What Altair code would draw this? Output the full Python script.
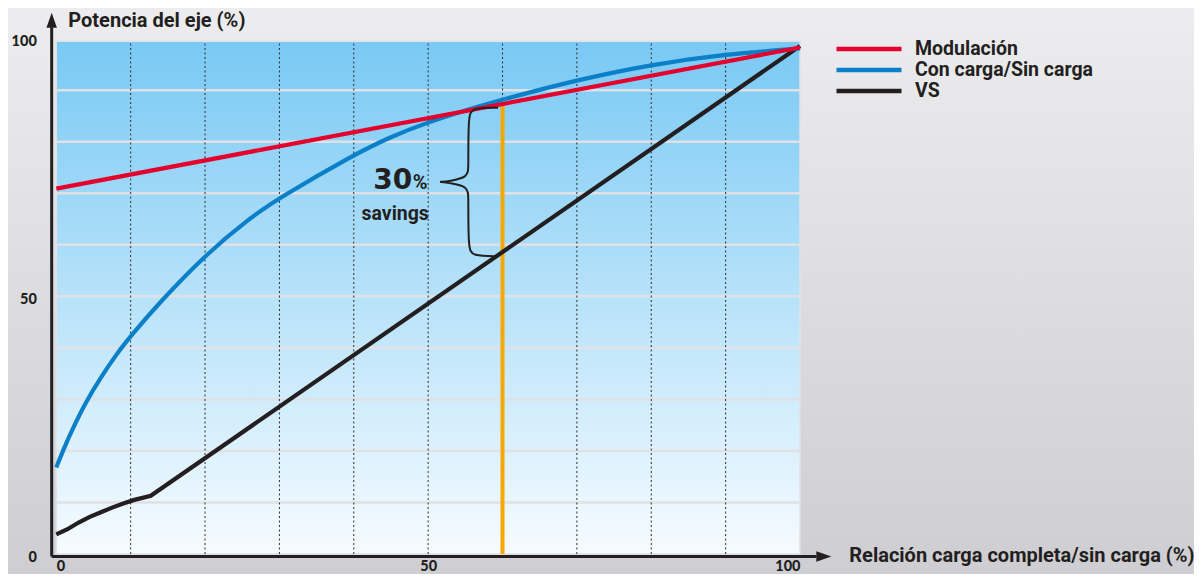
import altair as alt
import pandas as pd

# ---------------- data ----------------
series_names = ["Modulación", "Con carga/Sin carga", "VS"]
series_colors = ["#e3032c", "#0b7fc7", "#231f20"]

mod_x = [0, 100]
mod_y = [70.9, 98.3]

con_x = [0, 1, 2, 4, 6, 8, 10, 14, 20, 26, 30, 40, 45, 50, 55, 60, 70, 80, 90, 100]
con_y = [16.8, 20.4, 23.7, 29.6, 34.3, 38.6, 42.3, 49.0, 58.0, 65.2, 69.1, 77.5, 81.0,
         83.8, 86.1, 88.2, 92.0, 95.0, 97.0, 98.1]

vs_x = [0, 1.5, 3, 4.5, 6, 7.5, 9, 10.5, 12.7, 100]
vs_y = [3.8, 4.8, 6.1, 7.2, 8.1, 9.0, 9.8, 10.5, 11.3, 98.6]

grid_vals = [10, 20, 30, 40, 50, 60, 70, 80, 90]
tick_vals = [0, 50, 100]

savings_x = 60
savings_top = 87.3
savings_bottom = 58.6
savings_big = "30"
savings_pct = "%"
savings_word = "savings"

y_title = "Potencia del eje (%)"
x_title = "Relación carga completa/sin carga (%)"

# ---------------- tables ----------------
lines_df = pd.concat([
    pd.DataFrame({"series": series_names[0], "x": mod_x, "y": mod_y}),
    pd.DataFrame({"series": series_names[1], "x": con_x, "y": con_y}),
    pd.DataFrame({"series": series_names[2], "x": vs_x, "y": vs_y}),
], ignore_index=True)

grid_df = pd.DataFrame({"v": grid_vals})

# brace built from the savings range at x = savings_x
spine = savings_x - 4.6
tip = savings_x - 8.4
end = savings_x - 0.6
top = savings_top - 0.7
bot = savings_bottom - 0.8
mid = (top + bot) / 2
brace_pts = [
    (end, top), (spine + 0.5, top), (spine, top - 1.6), (spine, mid + 3.0),
    (spine, mid + 0.9), (tip + 1.2, mid + 0.15), (tip, mid), (tip, mid), (tip, mid),
    (tip + 1.2, mid - 0.15), (spine, mid - 0.9), (spine, mid - 3.0),
    (spine, bot + 1.6), (spine + 0.5, bot), (end, bot),
]
brace_df = pd.DataFrame({"o": list(range(len(brace_pts))),
                         "x": [p[0] for p in brace_pts],
                         "y": [p[1] for p in brace_pts]})

W, H = 743.7, 515.3
FONT = "Roboto"
INK = "#231f20"

xs = alt.Scale(domain=[0, 100], nice=False, zero=False)
ys = alt.Scale(domain=[0, 100], nice=False, zero=False)

one = pd.DataFrame({"a": [0]})

# outer grey gradient backdrop
backdrop = alt.Chart(one).mark_rect(
    color=alt.Gradient(gradient="linear",
                       stops=[alt.GradientStop(color="#ededef", offset=0),
                              alt.GradientStop(color="#cdcdd2", offset=1)],
                       x1=0, x2=0, y1=0, y2=1)
).encode(x=alt.value(-60), x2=alt.value(W + 400), y=alt.value(-40), y2=alt.value(H + 30))

# plot-area blue gradient
plot_bg = alt.Chart(pd.DataFrame({"x0": [0], "x1": [100], "y0": [0], "y1": [99.5]})).mark_rect(
    color=alt.Gradient(gradient="linear",
                       stops=[alt.GradientStop(color="#79c9f4", offset=0),
                              alt.GradientStop(color="#f6fbff", offset=1)],
                       x1=0, x2=0, y1=0, y2=1),
    stroke="#dfe2e7", strokeWidth=1.5
).encode(
    x=alt.X("x0:Q", scale=xs, axis=alt.Axis(
        values=tick_vals, domain=False, ticks=False, grid=False, format="d", zindex=2,
        labelFont="Lato", labelFontWeight=900, labelFontSize=14.5, labelColor=INK,
        labelPadding=5, labelBaseline="top",
        title=x_title, titleFont=FONT, titleFontWeight="bold", titleFontSize=20,
        titleColor=INK, titleAlign="left", titleBaseline="middle",
        titleX=792.5, titleY=1.5, titleAngle=0)),
    x2="x1:Q",
    y=alt.Y("y0:Q", scale=ys, axis=alt.Axis(
        values=tick_vals, domain=False, ticks=False, grid=False, format="d", zindex=2,
        labelFont="Lato", labelFontWeight=900, labelFontSize=14.5, labelColor=INK,
        labelPadding=20, labelOffset=3, labelBaseline="middle",
        title=y_title, titleFont=FONT, titleFontWeight="bold", titleFontSize=20,
        titleColor=INK, titleAlign="left", titleBaseline="middle",
        titleX=11.5, titleY=-18.5, titleAngle=0)),
    y2="y1:Q",
)

hgrid = alt.Chart(grid_df).mark_rule(color="#dfe1e6", strokeWidth=2.5).encode(
    y=alt.Y("v:Q", scale=ys), x=alt.datum(0), x2=alt.datum(100))

vgrid = alt.Chart(grid_df).mark_rule(color="#2b2b2b", strokeWidth=1, strokeDash=[2, 2.5]).encode(
    x=alt.X("v:Q", scale=xs), y=alt.datum(0), y2=alt.datum(99.5))

orange = alt.Chart(pd.DataFrame({"x": [savings_x], "y0": [0], "y1": [savings_top]})).mark_rule(
    color="#f5a800", strokeWidth=4).encode(
    x=alt.X("x:Q", scale=xs), y=alt.Y("y0:Q", scale=ys), y2="y1:Q")

color_scale = alt.Scale(domain=series_names, range=series_colors)
legend = alt.Legend(
    title=None, orient="none", legendX=777.7, legendY=0.5,
    symbolType="stroke", symbolSize=4225, symbolStrokeWidth=4.5,
    labelFont=FONT, labelFontWeight="bold", labelFontSize=19.5, labelColor=INK,
    labelOffset=11, labelLimit=400, clipHeight=19.8, rowPadding=0, padding=0,
    labelBaseline="middle", zindex=2,
)


def series_layer(name, interp):
    return alt.Chart(lines_df).transform_filter(alt.datum.series == name).mark_line(
        strokeWidth=4.2, interpolate=interp, strokeCap="butt").encode(
        x=alt.X("x:Q", scale=xs), y=alt.Y("y:Q", scale=ys),
        color=alt.Color("series:N", scale=color_scale, legend=legend, sort=series_names))


vs_line = series_layer(series_names[2], "linear")
con_line = series_layer(series_names[1], "basis")
mod_line = series_layer(series_names[0], "linear")

brace = alt.Chart(brace_df).mark_line(color=INK, strokeWidth=2, interpolate="basis").encode(
    x=alt.X("x:Q", scale=xs), y=alt.Y("y:Q", scale=ys), order="o:Q")

txt_df = pd.DataFrame({"x": [savings_x - 12.15], "xs": [savings_x - 9.9],
                       "y": [(savings_top + savings_bottom) / 2 - 2.1]})
t30 = alt.Chart(txt_df).mark_text(text=savings_big, font="DejaVu Sans", fontWeight="bold",
                                  fontSize=28, align="right", baseline="alphabetic",
                                  color=INK).encode(
    x=alt.X("x:Q", scale=xs), y=alt.Y("y:Q", scale=ys))
tpct = alt.Chart(txt_df).mark_text(text=savings_pct, font=FONT, fontWeight="bold",
                                   fontSize=20, align="left", baseline="alphabetic",
                                   color=INK, dx=0.5).encode(
    x=alt.X("x:Q", scale=xs), y=alt.Y("y:Q", scale=ys))
tsav = alt.Chart(txt_df).mark_text(text=savings_word, font=FONT, fontWeight="bold",
                                   fontSize=19.5, align="right", baseline="alphabetic",
                                   color=INK, dy=31).encode(
    x=alt.X("xs:Q", scale=xs), y=alt.Y("y:Q", scale=ys))

# axis lines with arrow heads
axis_df = pd.DataFrame({"x": [-0.62], "y": [-0.49], "ytop": [102.2], "xend": [102.2]})
y_axis_line = alt.Chart(axis_df).mark_rule(color=INK, strokeWidth=3).encode(
    x=alt.X("x:Q", scale=xs), y=alt.Y("y:Q", scale=ys), y2="ytop:Q")
x_axis_line = alt.Chart(axis_df).mark_rule(color=INK, strokeWidth=3).encode(
    y=alt.Y("y:Q", scale=ys), x=alt.X("x:Q", scale=xs), x2="xend:Q")
y_arrow = alt.Chart(pd.DataFrame({"x": [-0.62], "y": [103.6]})).mark_point(
    shape="M0,-1L0.7,1L-0.7,1Z", filled=True, size=225, color=INK, opacity=1).encode(
    x=alt.X("x:Q", scale=xs), y=alt.Y("y:Q", scale=ys))
x_arrow = alt.Chart(pd.DataFrame({"x": [103.2], "y": [-0.49]})).mark_point(
    shape="M1,0L-1,-0.7L-1,0.7Z", filled=True, size=225, color=INK, opacity=1).encode(
    x=alt.X("x:Q", scale=xs), y=alt.Y("y:Q", scale=ys))

chart = alt.layer(
    backdrop, plot_bg, hgrid, vgrid, orange, vs_line, con_line, mod_line, brace,
    t30, tpct, tsav, y_axis_line, x_axis_line, y_arrow, x_arrow,
).properties(
    width=W, height=H,
    autosize=alt.AutoSizeParams(type="none"),
    padding={"left": 48.3, "top": 30.7, "right": 394, "bottom": 20},
    background="#dcdce0",
).configure_view(stroke=None)

chart.save("out.html", embed_options={"renderer": "svg", "actions": False})
